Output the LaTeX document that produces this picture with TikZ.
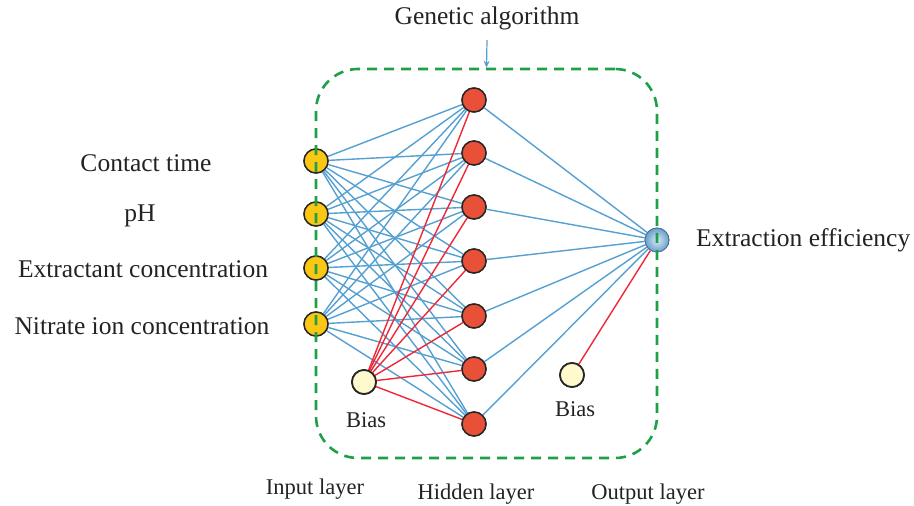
\documentclass[tikz,border=0pt]{standalone}
\usepackage{fontspec}
\setmainfont{Liberation Serif}
\usetikzlibrary{arrows.meta}
\definecolor{linkblue}{RGB}{85,160,210}
\definecolor{linkred}{RGB}{238,40,55}
\definecolor{boxgreen}{RGB}{30,160,70}
\definecolor{inyellow}{RGB}{250,200,20}
\definecolor{hidred}{RGB}{232,80,55}
\definecolor{biascream}{RGB}{255,250,205}
\definecolor{outblue}{RGB}{105,160,205}
\definecolor{txt}{RGB}{35,35,35}
\tikzset{
  neuron/.style={circle, minimum size=24pt, inner sep=0pt, draw=black!85, line width=1.4pt},
  innode/.style={neuron, fill=inyellow},
  hidnode/.style={neuron, fill=hidred},
  biasnode/.style={neuron, fill=biascream, line width=1.7pt},
  outnode/.style={neuron, draw=outblue!70!black, line width=0.8pt, inner color=outblue!25!white, outer color=outblue},
  bluelink/.style={draw=linkblue, line width=1.4pt},
  redlink/.style={draw=linkred, line width=1.4pt},
  lbl/.style={font=\fontsize{25.5}{28}\selectfont, text=txt, inner sep=0pt},
  smlbl/.style={font=\fontsize{22.5}{25}\selectfont, text=txt, inner sep=0pt},
  gabox/.style={draw=boxgreen, line width=2.6pt, dash pattern=on 10pt off 7pt, rounded corners=42pt, minimum width=341pt, minimum height=389pt, inner sep=0pt}
}
\begin{document}
\begin{tikzpicture}[x=1pt,y=-1pt]
\useasboundingbox (0,0) rectangle (914,506);
% input nodes
\node[innode] (i1) at (316,161) {};
\node[innode] (i2) at (316,214) {};
\node[innode] (i3) at (316,268) {};
\node[innode] (i4) at (316,324) {};
% hidden
\foreach \k/\y in {1/100,2/153,3/207,4/261,5/316,6/369,7/424}{
  \node[hidnode] (h\k) at (474,\y) {};
}
\node[biasnode] (b1) at (364,382) {};
\node[biasnode] (b2) at (572,375) {};
\node[outnode] (o) at (657,240) {};
% links
\foreach \i in {1,...,4}{
  \foreach \k in {1,...,7}{
    \path[bluelink] (i\i) -- (h\k);
  }
}
\foreach \k in {1,...,7}{
  \path[bluelink] (h\k) -- (o);
  \path[redlink] (b1) -- (h\k);
}
\path[redlink] (b2) -- (o);
% redraw nodes on top
\foreach \i/\y in {1/161,2/214,3/268,4/324}{\node[innode] at (316,\y) {};}
\foreach \k/\y in {1/100,2/153,3/207,4/261,5/316,6/369,7/424}{\node[hidnode] at (474,\y) {};}
\node[biasnode] at (364,382) {};
\node[biasnode] at (572,375) {};
\node[outnode] at (657,240) {};
% box
\node[gabox] (box) at (486.5,263.5) {};
% labels
\node[lbl] (ga) at (487,18) {Genetic algorithm};
\coordinate (gatip) at (487,40);
\draw[draw=linkblue, line width=1.2pt, -{Stealth[length=7pt,width=6pt]}] (gatip) -- (box.north);
\node[lbl] (l1) at (146,163) {Contact time};
\node[lbl] (l2) at (140,216) {pH};
\node[lbl] (l3) at (143,269) {Extractant concentration};
\node[lbl] (l4) at (142,326) {Nitrate ion concentration};
\node[lbl, anchor=west] (lo) at (696,240) {Extraction efficiency};
\node[smlbl] (bl1) at (366,420) {Bias};
\node[smlbl] (bl2) at (575,409) {Bias};
\node[smlbl] (il) at (315,489) {Input layer};
\node[smlbl] (hl) at (476,494) {Hidden layer};
\node[smlbl] (ol) at (648,494) {Output layer};
\end{tikzpicture}
\end{document}
